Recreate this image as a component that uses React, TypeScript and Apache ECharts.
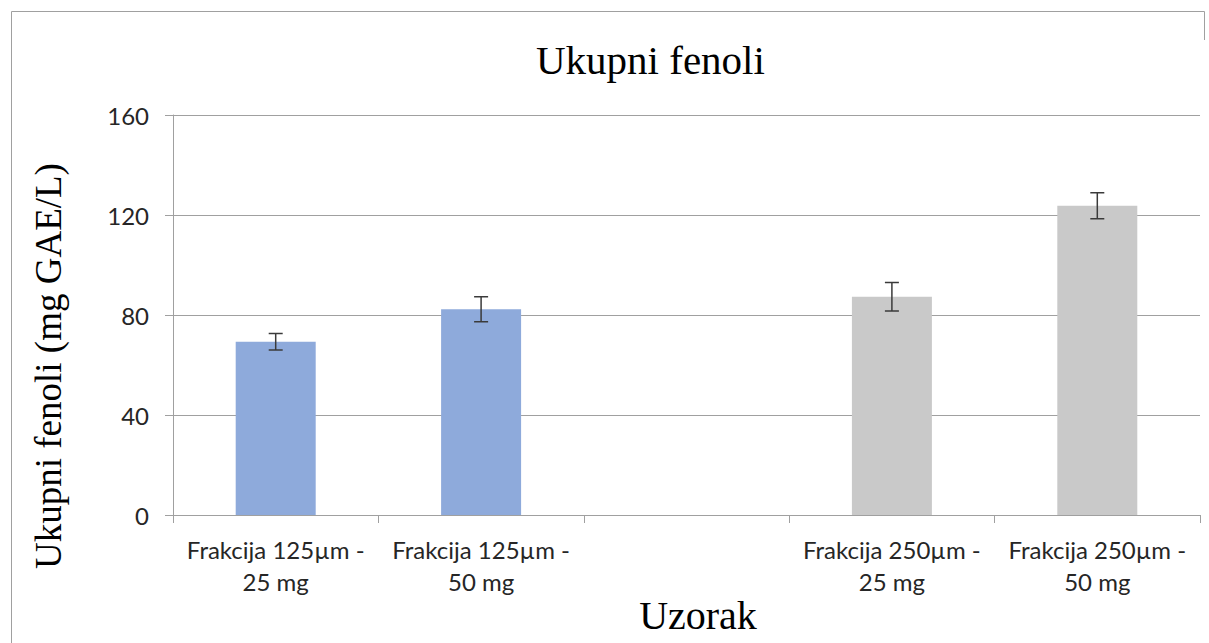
import React, { useEffect, useRef } from "react";
import * as echarts from "echarts";

const categories = [
  "Frakcija 125µm -\n25 mg",
  "Frakcija 125µm -\n50 mg",
  "",
  "Frakcija 250µm -\n25 mg",
  "Frakcija 250µm -\n50 mg",
];
const fraction125 = [69.3, 82.3, "-", "-", "-"];
const fraction250 = ["-", "-", "-", 87.3, 123.7];
const meanValues = [69.3, 82.3, null, 87.3, 123.7];
const errorValues = [3.3, 5.0, null, 5.7, 5.2];
const yTicks = { min: 0, max: 160, interval: 40 };

const titleText = "Ukupni fenoli";
const yAxisTitle = "Ukupni fenoli (mg GAE/L)";
const xAxisTitle = "Uzorak";

export default function App() {
  const ref = useRef<HTMLDivElement>(null);
  useEffect(() => {
    if (!ref.current) return;
    const chart = echarts.init(ref.current, null, { renderer: "svg" });
    const errData: any[] = [];
    meanValues.forEach((v, i) => {
      const e = errorValues[i];
      if (v != null && e != null) errData.push([i, v - e, v + e]);
    });
    const labelFont = "Lato, 'Open Sans', sans-serif";
    chart.setOption({
      animation: false,
      backgroundColor: "#fff",
      title: {
        text: titleText,
        left: 531,
        top: 34,
        textStyle: { fontFamily: "'Liberation Serif', serif", fontSize: 41, fontWeight: "normal", color: "#000" },
      },
      grid: { left: 173, right: 9, top: 115, bottom: 128, containLabel: false },
      xAxis: {
        type: "category",
        data: categories,
        axisLine: { lineStyle: { color: "#a0a0a0", width: 1 } },
        axisTick: { show: true, interval: 0, length: 8, lineStyle: { color: "#a0a0a0" } },
        axisLabel: {
          interval: 0,
          fontFamily: labelFont,
          fontSize: 24,
          lineHeight: 32,
          color: "#262626",
          margin: 18,
        },
      },
      yAxis: {
        type: "value",
        min: yTicks.min,
        max: yTicks.max,
        interval: yTicks.interval,
        axisLine: { show: true, lineStyle: { color: "#a0a0a0", width: 1 } },
        axisTick: { show: true, length: 8, lineStyle: { color: "#a0a0a0" } },
        splitLine: { lineStyle: { color: "#a0a0a0", width: 1 } },
        axisLabel: { fontFamily: labelFont, fontSize: 24, color: "#262626", margin: 24 },
      },
      series: [
        {
          type: "bar",
          name: "Frakcija 125µm",
          stack: "s",
          data: fraction125,
          barWidth: 80,
          itemStyle: { color: "#8eaadb" },
        },
        {
          type: "bar",
          name: "Frakcija 250µm",
          stack: "s",
          data: fraction250,
          barWidth: 80,
          itemStyle: { color: "#c9c9c9" },
        },
        {
          type: "custom",
          name: "error",
          z: 10,
          data: errData,
          renderItem: (params: any, api: any) => {
            const x = api.value(0);
            const lo = api.coord([x, api.value(1)]);
            const hi = api.coord([x, api.value(2)]);
            const hw = 7;
            const style = { stroke: "#3a3a3a", lineWidth: 1.5 };
            return {
              type: "group",
              children: [
                { type: "line", shape: { x1: hi[0], y1: hi[1], x2: lo[0], y2: lo[1] }, style },
                { type: "line", shape: { x1: hi[0] - hw, y1: hi[1], x2: hi[0] + hw, y2: hi[1] }, style },
                { type: "line", shape: { x1: lo[0] - hw, y1: lo[1], x2: lo[0] + hw, y2: lo[1] }, style },
              ],
            };
          },
        },
      ],
      graphic: [
        {
          type: "polyline",
          shape: { points: [[11.5, 643], [11.5, 11.5], [1204.5, 11.5], [1204.5, 40]] },
          style: { stroke: "#a0a0a0", lineWidth: 1, fill: "none" },
        },
        {
          type: "text",
          x: 48,
          y: 366,
          rotation: Math.PI / 2,
          style: {
            text: yAxisTitle,
            fontFamily: "'Liberation Serif', serif",
            fontSize: 37,
            fill: "#000",
            textAlign: "center",
            textVerticalAlign: "middle",
          },
        },
        {
          type: "text",
          x: 698,
          y: 615,
          style: {
            text: xAxisTitle,
            fontFamily: "'Liberation Serif', serif",
            fontSize: 40,
            fill: "#000",
            textAlign: "center",
            textVerticalAlign: "middle",
          },
        },
      ],
    });
    return () => chart.dispose();
  }, []);
  return <div ref={ref} style={{ position: "absolute", left: 0, top: 0, width: 1209, height: 643 }} />;
}
